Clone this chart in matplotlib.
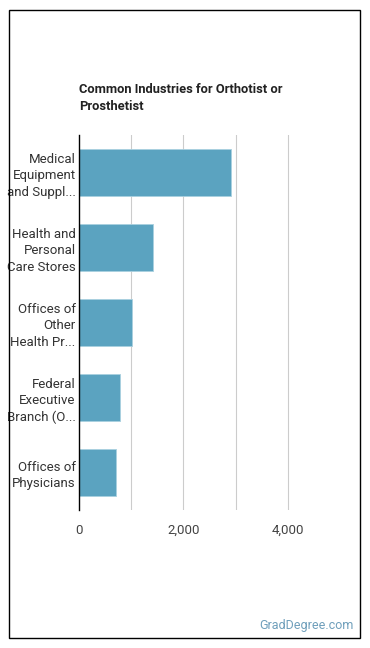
import matplotlib
matplotlib.use("Agg")
import matplotlib.pyplot as plt
from matplotlib.patches import Rectangle

categories = ["Medical\nEquipment\nand Suppl...", "Health and\nPersonal\nCare Stores",
              "Offices of\nOther\nHealth Pr...", "Federal\nExecutive\nBranch (O...",
              "Offices of\nPhysicians"]
values = [2910, 1420, 1010, 790, 714]
xticks = [0, 2000, 4000]
xtick_labels = ["0", "2,000", "4,000"]
title = "Common Industries for Orthotist or\nProsthetist"

plt.rcParams['font.family'] = ['Roboto', 'DejaVu Sans']
W, H = 370, 648
fig = plt.figure(figsize=(W/100, H/100), dpi=100)
fig.patches.append(Rectangle((8.5/W, 1-637.5/H), 351/W, 628/H, transform=fig.transFigure,
                             fill=False, edgecolor='black', linewidth=1.0))

ax = fig.add_axes([79/W, 1-510/H, 261/W, 375/H])
y = list(range(len(categories)))
ax.barh(y, values, height=0.63, color='#5ba3c0', edgecolor='#a9d0df', linewidth=0.6, zorder=3)
ax.set_ylim(len(categories)-0.5, -0.5)
ax.set_xlim(0, 5000)
ax.set_yticks(y)
ax.set_yticklabels(categories, fontsize=9.5, color='#333333', linespacing=1.35)
ax.set_xticks(xticks)
ax.set_xticklabels(xtick_labels, fontsize=9.5, color='#444444')
for g in [1000, 2000, 3000, 4000]:
    ax.axvline(g, color='#cccccc', linewidth=0.8, zorder=1)
ax.tick_params(axis='y', length=0, pad=2.5)
ax.tick_params(axis='x', length=0, pad=10)
for s in ['top', 'right', 'bottom']:
    ax.spines[s].set_visible(False)
ax.spines['left'].set_color('black')
ax.spines['left'].set_linewidth(1.0)
ax.spines['left'].set_zorder(4)

fig.text(79/W, 1-83/H, title, fontsize=9.3, fontweight='bold', color='#222222',
         va='top', ha='left', linespacing=1.35)
fig.text(354/W, 1-626/H, "GradDegree.com", fontsize=9, color='#6f9fbb', ha='right', va='center')

fig.savefig("out.png", dpi=100)
